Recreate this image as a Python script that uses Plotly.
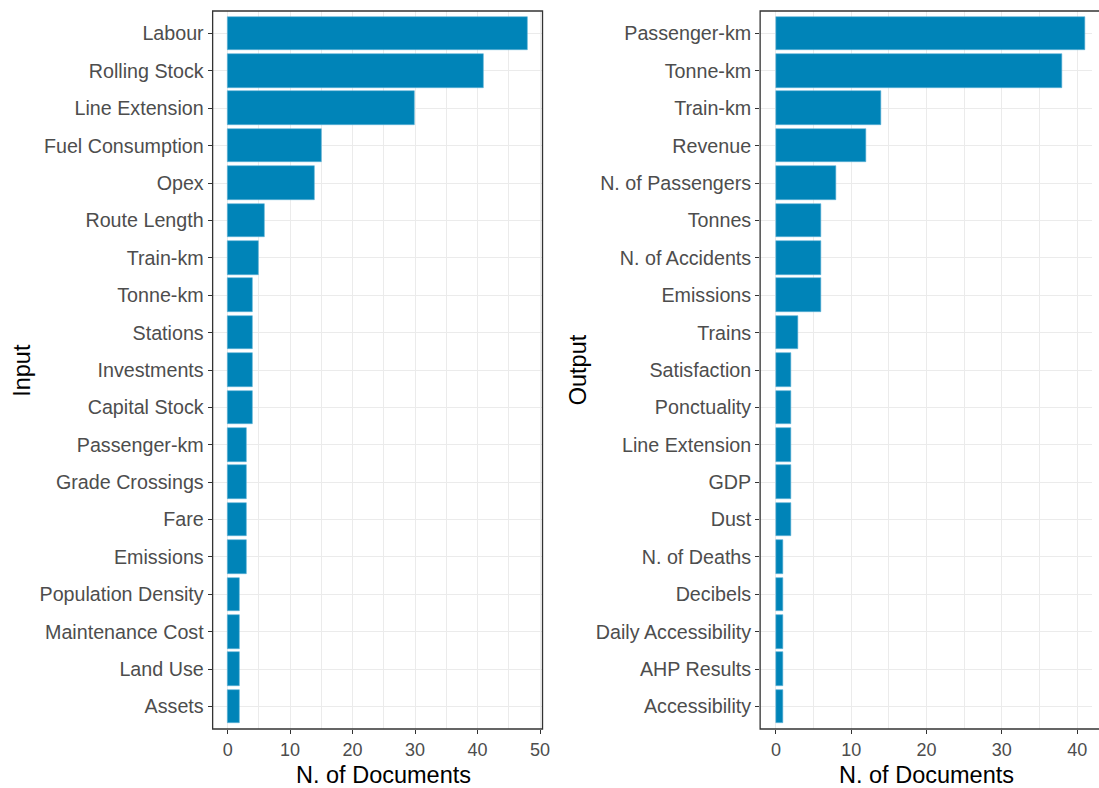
import plotly.graph_objects as go
from plotly.subplots import make_subplots

# Number of documents using each DEA input / output variable
input_vars = ["Labour", "Rolling Stock", "Line Extension", "Fuel Consumption", "Opex",
              "Route Length", "Train-km", "Tonne-km", "Stations", "Investments",
              "Capital Stock", "Passenger-km", "Grade Crossings", "Fare", "Emissions",
              "Population Density", "Maintenance Cost", "Land Use", "Assets"]
input_docs = [48, 41, 30, 15, 14, 6, 5, 4, 4, 4, 4, 3, 3, 3, 3, 2, 2, 2, 2]

output_vars = ["Passenger-km", "Tonne-km", "Train-km", "Revenue", "N. of Passengers",
               "Tonnes", "N. of Accidents", "Emissions", "Trains", "Satisfaction",
               "Ponctuality", "Line Extension", "GDP", "Dust", "N. of Deaths",
               "Decibels", "Daily Accessibility", "AHP Results", "Accessibility"]
output_docs = [41, 38, 14, 12, 8, 6, 6, 6, 3, 2, 2, 2, 2, 2, 1, 1, 1, 1, 1]

x_ticks = [0, 10, 20, 30, 40, 50]

W, H = 1099, 788
BAR = "#0084B8"
FONT = "Liberation Sans, Arial, sans-serif"
GRID = "#EBEBEB"
EDGE = "#333333"

fig = make_subplots(rows=1, cols=2)

fig.add_trace(go.Bar(y=input_vars, x=input_docs, orientation="h", width=0.9,
                     marker=dict(color=BAR, line=dict(color="#5fb3d6", width=0.6))),
              row=1, col=1)
fig.add_trace(go.Bar(y=output_vars, x=output_docs, orientation="h", width=0.9,
                     marker=dict(color=BAR, line=dict(color="#5fb3d6", width=0.6))),
              row=1, col=2)

# panel geometry in pixels
top_px, bot_px = 11, 729
left1, right1 = 214, 546
left2 = 765
ydom = [(H - bot_px) / H, (H - top_px) / H]

common_x = dict(
    showgrid=True, gridcolor=GRID, gridwidth=1.4,
    minor=dict(dtick=5, showgrid=True, gridcolor=GRID, gridwidth=1.0),
    tickvals=x_ticks, ticks="outside", ticklen=4, tickwidth=1.2, tickcolor=EDGE,
    tickfont=dict(family=FONT, size=18, color="#4D4D4D"),
    showline=False, zeroline=False,
)
common_y = dict(
    showgrid=True, gridcolor=GRID, gridwidth=1.4,
    ticks="outside", ticklen=4, tickwidth=1.2, tickcolor=EDGE,
    tickfont=dict(family=FONT, size=19.7, color="#4D4D4D"),
    showline=False, zeroline=False, range=[18.6, -0.6],
)

fig.update_xaxes(common_x, row=1, col=1)
fig.update_xaxes(common_x, row=1, col=2)
fig.update_yaxes(common_y, row=1, col=1)
fig.update_yaxes(common_y, row=1, col=2)

fig.update_layout(
    xaxis=dict(domain=[left1 / W, right1 / W], range=[-2.4, 50.4]),
    xaxis2=dict(domain=[left2 / W, 1.0], range=[-2.1, 41.97]),
    yaxis=dict(domain=ydom),
    yaxis2=dict(domain=ydom),
    width=W, height=H,
    margin=dict(l=0, r=0, t=0, b=0),
    paper_bgcolor="white", plot_bgcolor="white",
    showlegend=False, bargap=0,
    font=dict(family=FONT),
)

# panel borders
fig.add_shape(type="rect", xref="paper", yref="paper",
              x0=left1 / W, x1=right1 / W, y0=ydom[0], y1=ydom[1],
              line=dict(color=EDGE, width=1.3), layer="above")
fig.add_shape(type="rect", xref="paper", yref="paper",
              x0=left2 / W, x1=1.02, y0=ydom[0], y1=ydom[1],
              line=dict(color=EDGE, width=1.3), layer="above")

# axis titles
title_font = dict(family=FONT, size=23.5, color="black")
fig.add_annotation(text="N. of Documents", xref="paper", yref="paper",
                   x=(228 + 544) / 2 / W, y=(H - 775) / H, showarrow=False,
                   font=title_font, xanchor="center", yanchor="middle")
fig.add_annotation(text="N. of Documents", xref="paper", yref="paper",
                   x=(781 + 1084) / 2 / W, y=(H - 775) / H, showarrow=False,
                   font=title_font, xanchor="center", yanchor="middle")
fig.add_annotation(text="Input", xref="paper", yref="paper",
                   x=22 / W, y=(H - 370) / H, showarrow=False, textangle=-90,
                   font=title_font, xanchor="center", yanchor="middle")
fig.add_annotation(text="Output", xref="paper", yref="paper",
                   x=582 / W, y=(H - 370) / H, showarrow=False, textangle=-90,
                   font=title_font, xanchor="center", yanchor="middle")

fig.write_html("out.html")
